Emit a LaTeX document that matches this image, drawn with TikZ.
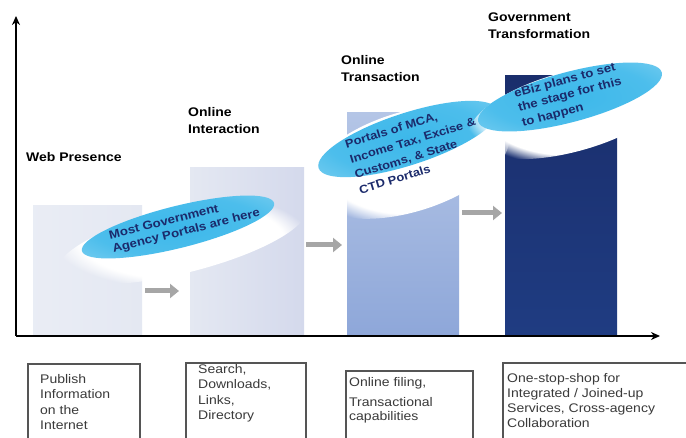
\documentclass[tikz,border=0pt]{standalone}
\usepackage{fontspec}
\setmainfont[FakeStretch=1.12]{Liberation Sans}
\usetikzlibrary{arrows.meta,shapes.geometric,fadings}
\definecolor{navy}{HTML}{1B2A6B}
\definecolor{cloudc}{HTML}{3DB8EA}
\definecolor{barA}{HTML}{E4E8F2}
\definecolor{barB}{HTML}{D4D9EC}
\definecolor{barCt}{HTML}{B4C5E6}
\definecolor{barCb}{HTML}{8EA7D9}
\definecolor{barD}{HTML}{1F3C82}
\definecolor{barDt}{HTML}{1A2E6C}
\definecolor{arrowg}{HTML}{A6A6A6}
\definecolor{boxline}{HTML}{555555}
\definecolor{boxtext}{HTML}{3A3A3A}
\pgfdeclareradialshading{cloudshade}{\pgfpoint{0bp}{0bp}}{color(0bp)=(cloudc); color(22bp)=(cloudc!92!white); color(36bp)=(cloudc!70!white); color(46bp)=(cloudc!25!white); color(50bp)=(white)}
\tikzset{
  axisline/.style={line width=2pt, -{Stealth[length=9pt,width=8pt]}, black},
  grayarrow/.style={line width=5pt, arrowg, -{Triangle[length=9pt,width=14pt]}},
  halo/.style={ellipse, draw=none, fill=white, path fading=circle with fuzzy edge 20 percent, inner sep=0},
  cloud/.style={ellipse, draw=none, shading=cloudshade, inner sep=0},
  cloudtext/.style={text=navy, anchor=north west, align=left, inner sep=0},
  title/.style={anchor=north west, align=left, inner sep=0, font=\bfseries\fontsize{12.5}{17}\selectfont},
  descbox/.style={draw=boxline, line width=1.2pt},
  desctext/.style={anchor=north west, align=left, inner sep=0, text=boxtext, font=\fontsize{12.5}{15.5}\selectfont}
}
\begin{document}
\begin{tikzpicture}[x=1pt,y=-1pt]
\useasboundingbox (0,0) rectangle (686,438);
\fill[white] (0,0) rectangle (686,438);
% bars
\shade[left color=barA!80, right color=barA] (33,206) rectangle (142,336);
\shade[left color=barA, right color=barB] (190,168) rectangle (304,336);
\shade[top color=barCt, bottom color=barCb] (347,113) rectangle (459,336);
\shade[top color=barDt, bottom color=barD] (505,76) rectangle (617,336);
% axes
\coordinate (origin) at (16,336);
\coordinate (ytop) at (16,16);
\coordinate (xend) at (660,336);
\draw[axisline] (origin) -- (ytop);
\draw[axisline] (origin) -- (xend);
% gray arrows
\coordinate (a1s) at (145,291); \coordinate (a1e) at (179,291);
\coordinate (a2s) at (306,245); \coordinate (a2e) at (342,245);
\coordinate (a3s) at (462,213); \coordinate (a3e) at (502,213);
\draw[grayarrow] (a1s) -- (a1e);
\draw[grayarrow] (a2s) -- (a2e);
\draw[grayarrow] (a3s) -- (a3e);
% clouds
\node[halo, minimum width=255pt, minimum height=66pt, rotate=14] (h1) at (182,240) {};
\node[cloud, minimum width=198pt, minimum height=42pt, rotate=14] (c1) at (178,227) {};
\node[halo, minimum width=210pt, minimum height=100pt, rotate=17] (h2) at (408,162) {};
\node[cloud, minimum width=188pt, minimum height=52pt, rotate=18] (c2) at (408,139) {};
\node[halo, minimum width=210pt, minimum height=80pt, rotate=15] (h3) at (570,112) {};
\node[cloud, minimum width=190pt, minimum height=50pt, rotate=15] (c3) at (570,97) {};
\node[cloudtext, rotate=14, font=\bfseries\fontsize{11.8}{14}\selectfont] (t1) at (108,231) {Most Government\\Agency Portals are here};
\node[cloudtext, rotate=17, font=\bfseries\fontsize{11.5}{16}\selectfont] (t2) at (344,140) {Portals of MCA,\\Income Tax, Excise \&\\Customs, \& State\\CTD Portals};
\node[cloudtext, rotate=15, font=\bfseries\fontsize{11.8}{15}\selectfont] (t3) at (513,89) {eBiz plans to set\\the stage for this\\to happen};
% titles
\node[title] (w1) at (26,152) {Web Presence};
\node[title] (w2) at (188,107) {Online\\Interaction};
\node[title] (w3) at (341,55) {Online\\Transaction};
\node[title] (w4) at (488,13) {Government\\Transformation};
% description boxes
\draw[descbox] (28,364) rectangle (140,445);
\draw[descbox] (186,363) rectangle (306,445);
\draw[descbox] (346,371) rectangle (473,445);
\draw[descbox] (503,363) rectangle (692,445);
\node[desctext] (d1) at (40,374) {Publish\\Information\\on the\\Internet};
\node[desctext] (d2) at (198,364) {Search,\\Downloads,\\Links,\\Directory};
\node[desctext, font=\fontsize{12.5}{14}\selectfont] (d3) at (349,377) {Online filing,\\[6pt]Transactional\\capabilities};
\node[desctext, font=\fontsize{12.5}{15}\selectfont] (d4) at (507,373) {One-stop-shop for\\Integrated / Joined-up\\Services, Cross-agency\\Collaboration};
\end{tikzpicture}
\end{document}
